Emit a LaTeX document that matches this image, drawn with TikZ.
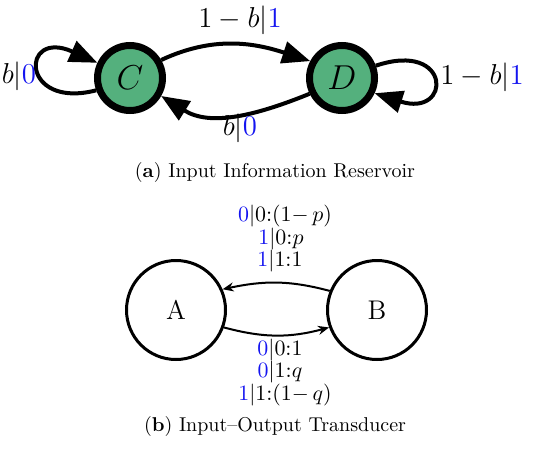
\documentclass[tikz,border=0pt]{standalone}
\usetikzlibrary{arrows.meta}
\definecolor{stategreen}{RGB}{84,176,125}
\definecolor{lblue}{RGB}{20,20,240}
\begin{document}
\begin{tikzpicture}[x=0.5pt,y=-0.5pt,
  gstate/.style={circle,draw=black,fill=stategreen,line width=3.5pt,minimum size=32.5pt,inner sep=0pt,font=\fontsize{17.5}{20}\selectfont},
  wstate/.style={circle,draw=black,line width=1.5pt,minimum size=49.5pt,inner sep=0pt,font=\fontsize{13.5}{16}\selectfont},
  bigarr/.style={line width=2pt,-{Triangle[length=14pt,width=11pt]}},
  smallarr/.style={line width=1pt,-{Stealth[length=5.5pt,width=4.5pt]}},
  toplbl/.style={inner sep=0pt,font=\fontsize{15}{18}\selectfont},
  botlbl/.style={inner sep=0pt,font=\fontsize{10.8}{12}\selectfont},
  captxt/.style={font=\fontsize{10}{12}\selectfont}]
\useasboundingbox (0,0) rectangle (550,450);
% (a)
\node[gstate] (C) at (130,78) {$C$};
\node[gstate] (D) at (342,78) {$D$};
\draw[bigarr] (C.30) to[out=25,in=162] (D.152);
\draw[bigarr] (D.206) to[out=202,in=-32] (C.330);
\draw[bigarr] (C.200) .. controls (20,110) and (20,28) .. (C.155);
\draw[bigarr] (D.20) .. controls (452,40) and (452,118) .. (D.335);
\node[toplbl] (l1) at (240,20) {$1-b|\textcolor{lblue}{1}$};
\node[toplbl] (l2) at (240,128) {$b|\textcolor{lblue}{0}$};
\node[toplbl] (l3) at (19,76) {$b|\textcolor{lblue}{0}$};
\node[toplbl] (l4) at (482,77) {$1-b|\textcolor{lblue}{1}$};
\node[captxt] (capa) at (275,172) {(\textbf{a}) Input Information Reservoir};
% (b)
\node[wstate] (A) at (176,310) {A};
\node[wstate] (B) at (377,310) {B};
\draw[smallarr] (B.158) to[out=165,in=12] (A.24);
\draw[smallarr] (A.-20) to[out=-15,in=195] (B.200);
\node[botlbl] (t1) at (285,216) {$\textcolor{lblue}{0}|0{:}(1{-}\,p)$};
\node[botlbl] (t2) at (281,239) {$\textcolor{lblue}{1}|0{:}p$};
\node[botlbl] (t3) at (280,261) {$\textcolor{lblue}{1}|1{:}1$};
\node[botlbl] (b1) at (280,350) {$\textcolor{lblue}{0}|0{:}1$};
\node[botlbl] (b2) at (280,372) {$\textcolor{lblue}{0}|1{:}q$};
\node[botlbl] (b3) at (285,395) {$\textcolor{lblue}{1}|1{:}(1{-}\,q)$};
\node[captxt] (capb) at (275,426) {(\textbf{b}) Input--Output Transducer};
\end{tikzpicture}
\end{document}
